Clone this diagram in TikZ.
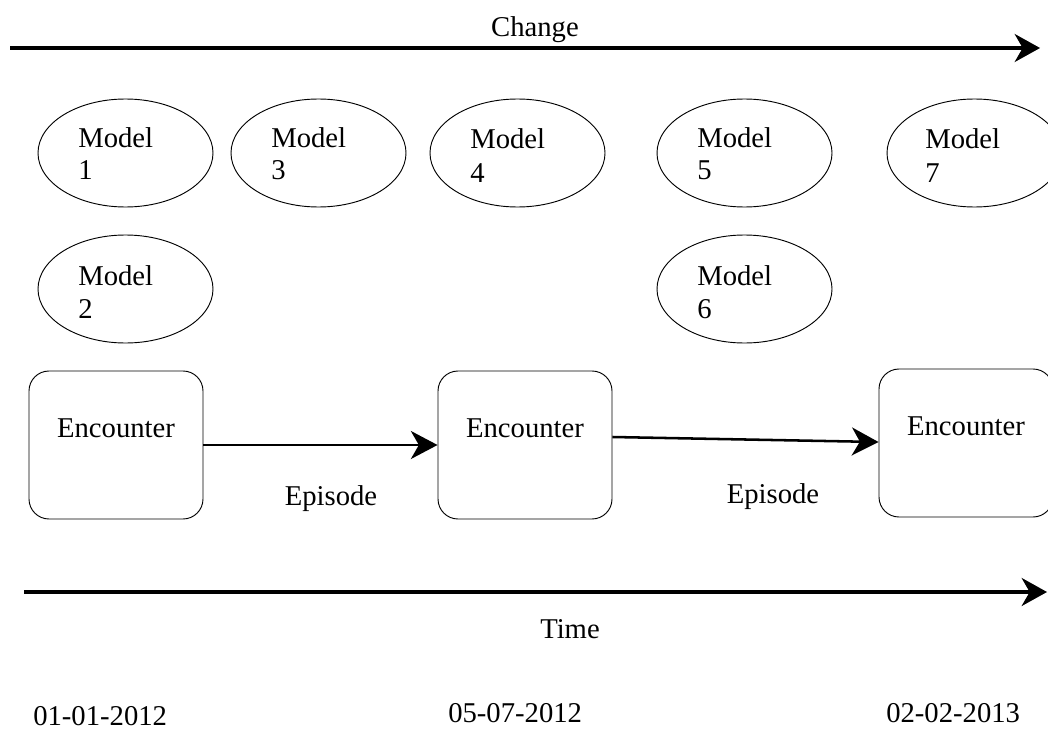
\documentclass[tikz,border=0pt]{standalone}
\usepackage{fontspec}
\setmainfont{Liberation Serif}
\usetikzlibrary{shapes.geometric,arrows.meta}
\begin{document}
\begin{tikzpicture}[x=0.75pt,y=-0.75pt,
  every node/.style={font=\fontsize{21.5}{24.75}\selectfont},
  model/.style={ellipse,draw,line width=0.7pt,minimum width=131.25pt,minimum height=81pt,inner sep=0pt},
  enc/.style={draw,line width=0.7pt,rounded corners=15pt,minimum width=130.5pt,minimum height=111pt,inner sep=0pt},
  lbl/.style={anchor=base west,inner sep=0pt,align=left},
  bigarrow/.style={line width=2.4pt,-{Stealth[length=19pt,width=21pt,inset=6pt]}},
  eparrow/.style={line width=1.9pt,-{Stealth[length=20pt,width=21pt,inset=6pt]}}
]
\useasboundingbox (0,0) rectangle (1048,731);
\path[clip] (0,0) rectangle (1048,731);

% Change arrow
\coordinate (c0) at (10,48);
\coordinate (c1) at (1040,48);
\draw[bigarrow] (c0) -- (c1);
\node[anchor=base,inner sep=0pt] (change) at (535,37) {Change};

% Models
\node[model] (m1) at (125.5,153) {};
\node[model] (m3) at (318.5,153) {};
\node[model] (m4) at (517.5,153) {};
\node[model] (m5) at (744.5,153) {};
\node[model] (m7) at (974.5,153) {};
\node[model] (m2) at (125.5,289) {};
\node[model] (m6) at (744.5,289) {};
\node[lbl] (t1) at (78,147) {Model};
\node[lbl] (n1) at (78,180) {1};
\node[lbl] (t3) at (271,147) {Model};
\node[lbl] (n3) at (271,180) {3};
\node[lbl] (t4) at (470,149) {Model};
\node[lbl] (n4) at (470,182) {4};
\node[lbl] (t5) at (697,147) {Model};
\node[lbl] (n5) at (697,180) {5};
\node[lbl] (t7) at (925,149) {Model};
\node[lbl] (n7) at (925,182) {7};
\node[lbl] (t2) at (78,285) {Model};
\node[lbl] (n2) at (78,318) {2};
\node[lbl] (t6) at (697,285) {Model};
\node[lbl] (n6) at (697,318) {6};

% Encounters
\node[enc] (e1) at (116,445) {};
\node[enc] (e2) at (525,445) {};
\node[enc] (e3) at (966,443) {};
\node[anchor=base,inner sep=0pt] (et1) at (116,437) {Encounter};
\node[anchor=base,inner sep=0pt] (et2) at (525,437) {Encounter};
\node[anchor=base,inner sep=0pt] (et3) at (966,435) {Encounter};

\draw[eparrow] (e1.east) -- (e2.west);
\draw[eparrow] ([yshift=6pt]e2.east) -- ([yshift=0.75pt]e3.west);
\node[anchor=base,inner sep=0pt] (ep1) at (331,505) {Episode};
\node[anchor=base,inner sep=0pt] (ep2) at (773,503) {Episode};

% Time arrow
\coordinate (t0) at (24,592);
\coordinate (tend) at (1047,592);
\draw[bigarrow] (t0) -- (tend);
\node[anchor=base,inner sep=0pt] (time) at (570,638) {Time};

% Dates
\node[anchor=base west,inner sep=0pt] (d1) at (33,725) {01-01-2012};
\node[anchor=base west,inner sep=0pt] (d2) at (448,722) {05-07-2012};
\node[anchor=base west,inner sep=0pt] (d3) at (886,722) {02-02-2013};
\end{tikzpicture}
\end{document}
